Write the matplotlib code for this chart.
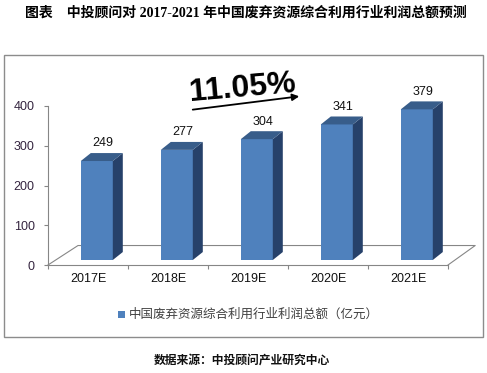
import matplotlib
matplotlib.use('Agg')
import matplotlib.pyplot as plt
from matplotlib.patches import Polygon, Rectangle
import numpy as np

categories = ['2017E', '2018E', '2019E', '2020E', '2021E']
values = [249, 277, 304, 341, 379]
yticks = [0, 100, 200, 300, 400]
series_name = '中国废弃资源综合利用行业利润总额（亿元）'
title = '图表    中投顾问对 2017-2021 年中国废弃资源综合利用行业利润总额预测'
growth_label = '11.05%'
source = '数据来源：中投顾问产业研究中心'

CJK = ['Noto Sans CJK SC', 'DejaVu Sans']
plt.rcParams['font.family'] = ['Liberation Sans', 'Noto Sans CJK SC', 'DejaVu Sans']

W, H = 487, 373
fig = plt.figure(figsize=(W / 100, H / 100), dpi=100)


def fx(x):
    return x / W


def fy(y):
    return 1 - y / H


ax = fig.add_axes([fx(48), fy(265), 400 / W, 159 / H])
ax.set_xlim(-0.5, 4.5)
ax.set_ylim(0, 400)

# outer frame
fig.add_artist(Rectangle((fx(4), fy(337)), 479 / W, 282 / H, transform=fig.transFigure,
                         fill=False, ec='#8c8c8c', lw=1.0))

# 3D geometry parameters (data units)
bar_off_x, bar_off_y = 0.11, 12.6
bw = 0.40
dx, dy = 0.125, 20.0
floor_dx_l, floor_dx_r, floor_dy = 0.375, 0.34, 49.0

x = np.arange(len(categories))
gray = '#868686'

# floor
ax.plot([-0.5, -0.5 + floor_dx_l, 4.5 + floor_dx_r, 4.5], [0, floor_dy, floor_dy, 0],
        color=gray, lw=0.8, clip_on=False, zorder=1)

front_c = '#4F81BD'
side_c = '#26416A'
top_c = '#385D8A'
ax.bar(x + bar_off_x, values, width=bw, bottom=bar_off_y, color=front_c,
       clip_on=False, zorder=3)
for xi, v in zip(x, values):
    l = xi + bar_off_x - bw / 2
    r = xi + bar_off_x + bw / 2
    b = bar_off_y
    t = bar_off_y + v
    ax.add_patch(Polygon([(r, b), (r + dx, b + dy), (r + dx, t + dy), (r, t)],
                         closed=True, fc=side_c, ec='none', clip_on=False, zorder=3))
    ax.add_patch(Polygon([(l, t), (r, t), (r + dx, t + dy), (l + dx, t + dy)],
                         closed=True, fc=top_c, ec='none', clip_on=False, zorder=3))
    ax.text(xi + 0.185, v + 57, str(v), ha='center', va='center', fontsize=9,
            color='#111111', clip_on=False, zorder=4)

# axes styling
for s in ['top', 'right']:
    ax.spines[s].set_visible(False)
for s in ['left', 'bottom']:
    ax.spines[s].set_color(gray)
    ax.spines[s].set_linewidth(0.8)
ax.set_yticks(yticks)
ax.set_yticklabels([str(t) for t in yticks])
ax.tick_params(axis='y', direction='out', length=3, width=0.8, color=gray, pad=6.5,
               labelsize=9, labelcolor='#34243f')
ax.set_xticks(np.arange(-0.5, 5, 1))
ax.set_xticklabels([])
ax.tick_params(axis='x', which='major', direction='out', length=3, width=0.8, color=gray)
ax.set_xticks(x, minor=True)
ax.set_xticklabels(categories, minor=True)
ax.tick_params(axis='x', which='minor', length=0, pad=6, labelsize=9, labelcolor='#111111')

# growth annotation
fig.text(fx(242), fy(88), growth_label, ha='center', va='center', fontsize=23,
         rotation=5, color='black', weight='bold', family=['Liberation Sans'])
ax.annotate('', xy=(fx(302), fy(96)), xytext=(fx(190), fy(110)),
            xycoords=fig.transFigure, textcoords=fig.transFigure,
            arrowprops=dict(arrowstyle='-|>', color='black', lw=1.3, mutation_scale=10))

# legend
fig.add_artist(Rectangle((fx(117.5), fy(317.5)), 7 / W, 7 / H, transform=fig.transFigure,
                         fc=front_c, ec='none'))
fig.text(fx(129), fy(314), series_name, ha='left', va='center', fontsize=9,
         color='#404040', family=CJK)

# title and source
fig.text(fx(246), fy(13), title, ha='center', va='center', fontsize=10, weight='bold',
         color='black', family=['Liberation Serif', 'Noto Sans CJK SC'])
fig.text(fx(242), fy(360), source, ha='center', va='center', fontsize=8.5, weight='bold',
         color='#111111', family=CJK)

fig.savefig('out.png', dpi=100)
